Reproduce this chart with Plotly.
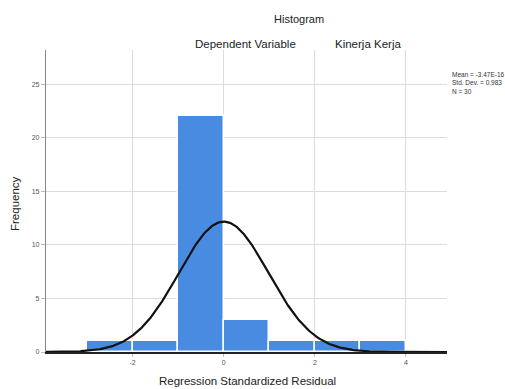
import numpy as np
import plotly.graph_objects as go

# Data
bin_left = [-3, -2, -1, 0, 1, 2, 3]
bin_width = 1.0
counts = [1, 1, 22, 3, 1, 1, 1]
x_ticks = [-2, 0, 2, 4]
y_ticks = [0, 5, 10, 15, 20, 25]
mean_val = 0.0
std_val = 0.983
n_val = 30

centers = [b + bin_width / 2 for b in bin_left]

xs = np.linspace(-3.9, 4.9, 400)
ys = n_val * bin_width / (std_val * np.sqrt(2 * np.pi)) * np.exp(-0.5 * ((xs - mean_val) / std_val) ** 2)

fig = go.Figure()
fig.add_trace(go.Bar(x=centers, y=counts, width=[bin_width] * len(counts),
                     marker=dict(color="#4a8be2", line=dict(color="white", width=1.5)),
                     showlegend=False))
fig.add_trace(go.Scatter(x=xs, y=ys, mode="lines", line=dict(color="#111111", width=2.2),
                         showlegend=False, cliponaxis=False))

font_family = "Liberation Sans, Arial, sans-serif"
L, R, T, B = 46, 58, 50, 37
W, H = 505, 389
fig.update_layout(
    width=W, height=H,
    margin=dict(l=L, r=R, t=T, b=B, autoexpand=False),
    paper_bgcolor="white", plot_bgcolor="white",
    bargap=0,
    font=dict(family=font_family, size=9, color="#222222"),
    xaxis=dict(range=[-3.9, 4.9], tickvals=x_ticks, ticktext=[str(t) for t in x_ticks],
               automargin=False,
               showgrid=True, gridcolor="#dcdcdc", gridwidth=1,
               showline=True, linecolor="#222222", linewidth=1.5,
               ticks="outside", ticklen=3, tickcolor="#bbbbbb",
               tickfont=dict(size=7, color="#555555"), zeroline=False),
    yaxis=dict(range=[0, 28.2], tickvals=y_ticks, ticktext=[str(t) for t in y_ticks],
               automargin=False,
               showgrid=True, gridcolor="#dcdcdc", gridwidth=1,
               showline=True, linecolor="#888888", linewidth=1.2,
               ticks="outside", ticklen=4, tickcolor="#bbbbbb",
               tickfont=dict(size=7, color="#555555"), zeroline=False),
)

pw = W - L - R
ph = H - T - B


def ann(text, px, py, size, xanchor="center", yanchor="middle", align="center",
        color="#222222", textangle=0):
    fig.add_annotation(text=text, xref="paper", yref="paper",
                       x=(px - L) / pw, y=(H - py - B) / ph,
                       xanchor=xanchor, yanchor=yanchor, align=align, showarrow=False,
                       textangle=textangle, font=dict(size=size, color=color))


ann("Histogram", 299, 19, 11)
ann("Dependent Variable", 245, 44, 11.5)
ann("Kinerja Kerja", 368, 44, 11.5)
ann("Mean = -3.47E-16<br>Std. Dev. = 0.983<br>N = 30", 450, 69, 6.5,
    xanchor="left", yanchor="top", align="left", color="#333333")
ann("Regression Standardized Residual", 247, 381, 11.5)
ann("Frequency", 15, 204, 11.5, textangle=-90)

fig.write_html("out.html", config={"displayModeBar": False},
               post_script="document.body.style.margin='0';document.body.style.padding='0';")
